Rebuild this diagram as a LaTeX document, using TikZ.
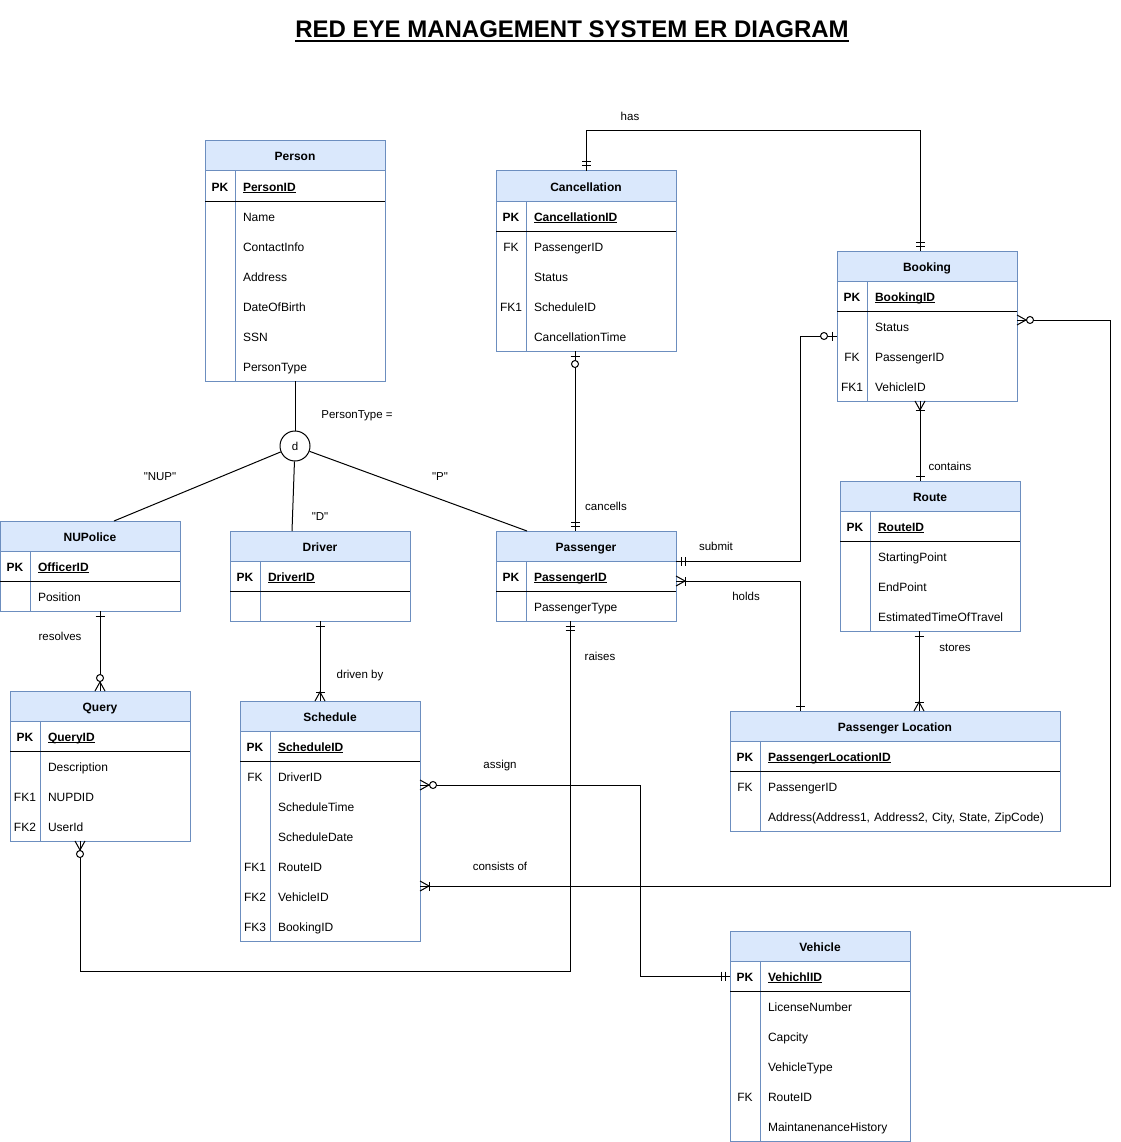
\documentclass[tikz,border=0pt]{standalone}
\usepackage{fontspec}
\setmainfont{Liberation Sans}[Ligatures=TeXOff]
\usepackage{xcolor}
\usepackage{tikz}
\usetikzlibrary{positioning, fit, decorations.markings}

\definecolor{erblue}{HTML}{6C8EBF}
\definecolor{erfill}{HTML}{DAE8FC}

\newcommand{\erfont}{\fontsize{12}{30}\selectfont}
\newcommand{\ercell}[1]{\rule[-10pt]{0pt}{30pt}#1}
% underline: #1 lower edge below baseline, #2 thickness, #3 text
\newcommand{\erul}[3]{\setbox0=\hbox{#3}\rlap{\rule[-#1]{\wd0}{#2}}\box0}
\newcommand{\pkname}[1]{\erul{2pt}{1pt}{#1}}
% crow's foot pieces (entity at origin, line comes from -x)
\newcommand{\erbar}[1]{\draw[ersym] (-#1,-4.5) -- (-#1,4.5);}
\newcommand{\ercrow}{\draw[ersym] (0,-5) -- (-9,0) -- (0,5);}
\newcommand{\erring}[1]{\draw[ersym, fill=white] (-#1,0) circle (3.5);}

\tikzset{
    entity/.style={
        rectangle,
        draw=erblue,
        fill=erfill,
        line width=1pt,
        inner sep=0pt,
        outer sep=0pt,
        font=\erfont\bfseries
    },
    keycell/.style={
        rectangle,
        draw=erblue,
        fill=white,
        line width=1pt,
        minimum width=30pt,
        inner sep=0pt,
        outer sep=0pt,
        align=center,
        font=\erfont
    },
    pkkey/.style={
        keycell,
        font=\erfont\bfseries
    },
    fieldcell/.style={
        rectangle,
        draw=erblue,
        fill=white,
        line width=1pt,
        inner xsep=8pt,
        inner ysep=0pt,
        outer sep=0pt,
        align=left,
        font=\erfont
    },
    pkfield/.style={
        fieldcell,
        font=\erfont\bfseries
    },
    pkline/.style={
        draw=black,
        line width=1pt
    },
    tblbox/.style={
        inner sep=0pt,
        outer sep=0pt
    },
    disjoint/.style={
        circle,
        draw=black,
        fill=white,
        line width=1pt,
        minimum size=30pt,
        inner sep=0pt,
        font=\fontsize{11.5}{13}\selectfont
    },
    wire/.style={
        draw=black,
        line width=1pt
    },
    ersym/.style={
        draw=black,
        line width=1pt
    },
    rel/.style={
        font=\fontsize{11.5}{13}\selectfont,
        inner sep=0pt
    },
    title/.style={
        font=\fontsize{24}{28}\selectfont\bfseries,
        anchor=base
    },
    er start/.style={
        postaction={decorate, decoration={markings,
            mark=at position 0 with {\begin{scope}[rotate=180]#1\end{scope}}}}
    },
    er end/.style={
        postaction={decorate, decoration={markings,
            mark=at position 1 with {#1}}}
    },
    one start/.style={er start={\erbar{5}}},
    one end/.style={er end={\erbar{5}}},
    mone start/.style={er start={\erbar{5}\erbar{9}}},
    mone end/.style={er end={\erbar{5}\erbar{9}}},
    zone start/.style={er start={\erbar{5}\erring{13}}},
    zone end/.style={er end={\erbar{5}\erring{13}}},
    omany start/.style={er start={\ercrow\erbar{9}}},
    omany end/.style={er end={\ercrow\erbar{9}}},
    zmany start/.style={er start={\ercrow\erring{13}}},
    zmany end/.style={er end={\ercrow\erring{13}}}
}

\begin{document}
\begin{tikzpicture}[x=1pt, y=-1pt]

\useasboundingbox (0,0) rectangle (1120,1142);

% Title
\node[title] (title) at (572,38) {\erul{4pt}{2pt}{RED EYE MANAGEMENT SYSTEM ER DIAGRAM}};

% Person
\node[entity, minimum width=180pt, anchor=north west] (person_h) at (205,141) {\ercell{Person}};
\node[pkkey, below right=0pt and 0pt of person_h.south west] (person_pk) {\ercell{PK}};
\node[pkfield, right=0pt of person_pk, text width=134pt] (person_id) {\ercell{\pkname{PersonID}}};
\node[keycell, below=0pt of person_pk] (person_kb) {\ercell{}\\\ercell{}\\\ercell{}\\\ercell{}\\\ercell{}\\\ercell{}};
\node[fieldcell, right=0pt of person_kb, text width=134pt] (person_fb) {\ercell{Name}\\\ercell{ContactInfo}\\\ercell{Address}\\\ercell{DateOfBirth}\\\ercell{SSN}\\\ercell{PersonType}};
\draw[pkline] (person_pk.south west) -- (person_id.south east);
\node[tblbox, fit=(person_h)(person_fb)] (person) {};

% Cancellation
\node[entity, minimum width=180pt, anchor=north west] (cancel_h) at (496,171) {\ercell{Cancellation}};
\node[pkkey, below right=0pt and 0pt of cancel_h.south west] (cancel_pk) {\ercell{PK}};
\node[pkfield, right=0pt of cancel_pk, text width=134pt] (cancel_id) {\ercell{\pkname{CancellationID}}};
\node[keycell, below=0pt of cancel_pk] (cancel_kb) {\ercell{FK}\\\ercell{}\\\ercell{FK1}\\\ercell{}};
\node[fieldcell, right=0pt of cancel_kb, text width=134pt] (cancel_fb) {\ercell{PassengerID}\\\ercell{Status}\\\ercell{ScheduleID}\\\ercell{CancellationTime}};
\draw[pkline] (cancel_pk.south west) -- (cancel_id.south east);
\node[tblbox, fit=(cancel_h)(cancel_fb)] (cancel) {};

% Booking
\node[entity, minimum width=180pt, anchor=north west] (booking_h) at (837,251) {\ercell{Booking}};
\node[pkkey, below right=0pt and 0pt of booking_h.south west] (booking_pk) {\ercell{PK}};
\node[pkfield, right=0pt of booking_pk, text width=134pt] (booking_id) {\ercell{\pkname{BookingID}}};
\node[keycell, below=0pt of booking_pk] (booking_kb) {\ercell{}\\\ercell{FK}\\\ercell{FK1}};
\node[fieldcell, right=0pt of booking_kb, text width=134pt] (booking_fb) {\ercell{Status}\\\ercell{PassengerID}\\\ercell{VehicleID}};
\draw[pkline] (booking_pk.south west) -- (booking_id.south east);
\node[tblbox, fit=(booking_h)(booking_fb)] (booking) {};

% Route
\node[entity, minimum width=180pt, anchor=north west] (route_h) at (840,481) {\ercell{Route}};
\node[pkkey, below right=0pt and 0pt of route_h.south west] (route_pk) {\ercell{PK}};
\node[pkfield, right=0pt of route_pk, text width=134pt] (route_id) {\ercell{\pkname{RouteID}}};
\node[keycell, below=0pt of route_pk] (route_kb) {\ercell{}\\\ercell{}\\\ercell{}};
\node[fieldcell, right=0pt of route_kb, text width=134pt] (route_fb) {\ercell{StartingPoint}\\\ercell{EndPoint}\\\ercell{EstimatedTimeOfTravel}};
\draw[pkline] (route_pk.south west) -- (route_id.south east);
\node[tblbox, fit=(route_h)(route_fb)] (route) {};

% NUPolice
\node[entity, minimum width=180pt, anchor=north west] (nupolice_h) at (0,521) {\ercell{NUPolice}};
\node[pkkey, below right=0pt and 0pt of nupolice_h.south west] (nupolice_pk) {\ercell{PK}};
\node[pkfield, right=0pt of nupolice_pk, text width=134pt] (nupolice_id) {\ercell{\pkname{OfficerID}}};
\node[keycell, below=0pt of nupolice_pk] (nupolice_kb) {\ercell{}};
\node[fieldcell, right=0pt of nupolice_kb, text width=134pt] (nupolice_fb) {\ercell{Position}};
\draw[pkline] (nupolice_pk.south west) -- (nupolice_id.south east);
\node[tblbox, fit=(nupolice_h)(nupolice_fb)] (nupolice) {};

% Driver
\node[entity, minimum width=180pt, anchor=north west] (driver_h) at (230,531) {\ercell{Driver}};
\node[pkkey, below right=0pt and 0pt of driver_h.south west] (driver_pk) {\ercell{PK}};
\node[pkfield, right=0pt of driver_pk, text width=134pt] (driver_id) {\ercell{\pkname{DriverID}}};
\node[keycell, below=0pt of driver_pk] (driver_kb) {\ercell{}};
\node[fieldcell, right=0pt of driver_kb, text width=134pt] (driver_fb) {\ercell{}};
\draw[pkline] (driver_pk.south west) -- (driver_id.south east);
\node[tblbox, fit=(driver_h)(driver_fb)] (driver) {};

% Passenger
\node[entity, minimum width=180pt, anchor=north west] (passenger_h) at (496,531) {\ercell{Passenger}};
\node[pkkey, below right=0pt and 0pt of passenger_h.south west] (passenger_pk) {\ercell{PK}};
\node[pkfield, right=0pt of passenger_pk, text width=134pt] (passenger_id) {\ercell{\pkname{PassengerID}}};
\node[keycell, below=0pt of passenger_pk] (passenger_kb) {\ercell{}};
\node[fieldcell, right=0pt of passenger_kb, text width=134pt] (passenger_fb) {\ercell{PassengerType}};
\draw[pkline] (passenger_pk.south west) -- (passenger_id.south east);
\node[tblbox, fit=(passenger_h)(passenger_fb)] (passenger) {};

% Query
\node[entity, minimum width=180pt, anchor=north west] (query_h) at (10,691) {\ercell{Query}};
\node[pkkey, below right=0pt and 0pt of query_h.south west] (query_pk) {\ercell{PK}};
\node[pkfield, right=0pt of query_pk, text width=134pt] (query_id) {\ercell{\pkname{QueryID}}};
\node[keycell, below=0pt of query_pk] (query_kb) {\ercell{}\\\ercell{FK1}\\\ercell{FK2}};
\node[fieldcell, right=0pt of query_kb, text width=134pt] (query_fb) {\ercell{Description}\\\ercell{NUPDID}\\\ercell{UserId}};
\draw[pkline] (query_pk.south west) -- (query_id.south east);
\node[tblbox, fit=(query_h)(query_fb)] (query) {};

% Schedule
\node[entity, minimum width=180pt, anchor=north west] (schedule_h) at (240,701) {\ercell{Schedule}};
\node[pkkey, below right=0pt and 0pt of schedule_h.south west] (schedule_pk) {\ercell{PK}};
\node[pkfield, right=0pt of schedule_pk, text width=134pt] (schedule_id) {\ercell{\pkname{ScheduleID}}};
\node[keycell, below=0pt of schedule_pk] (schedule_kb) {\ercell{FK}\\\ercell{}\\\ercell{}\\\ercell{FK1}\\\ercell{FK2}\\\ercell{FK3}};
\node[fieldcell, right=0pt of schedule_kb, text width=134pt] (schedule_fb) {\ercell{DriverID}\\\ercell{ScheduleTime}\\\ercell{ScheduleDate}\\\ercell{RouteID}\\\ercell{VehicleID}\\\ercell{BookingID}};
\draw[pkline] (schedule_pk.south west) -- (schedule_id.south east);
\node[tblbox, fit=(schedule_h)(schedule_fb)] (schedule) {};

% Passenger Location
\node[entity, minimum width=330pt, anchor=north west] (ploc_h) at (730,711) {\ercell{Passenger Location}};
\node[pkkey, below right=0pt and 0pt of ploc_h.south west] (ploc_pk) {\ercell{PK}};
\node[pkfield, right=0pt of ploc_pk, text width=284pt] (ploc_id) {\ercell{\pkname{PassengerLocationID}}};
\node[keycell, below=0pt of ploc_pk] (ploc_kb) {\ercell{FK}\\\ercell{}};
\node[fieldcell, right=0pt of ploc_kb, text width=284pt] (ploc_fb) {\ercell{PassengerID}\\\ercell{Address(Address1, Address2, City, State, ZipCode)}};
\draw[pkline] (ploc_pk.south west) -- (ploc_id.south east);
\node[tblbox, fit=(ploc_h)(ploc_fb)] (ploc) {};

% Vehicle
\node[entity, minimum width=180pt, anchor=north west] (vehicle_h) at (730,931) {\ercell{Vehicle}};
\node[pkkey, below right=0pt and 0pt of vehicle_h.south west] (vehicle_pk) {\ercell{PK}};
\node[pkfield, right=0pt of vehicle_pk, text width=134pt] (vehicle_id) {\ercell{\pkname{VehichlID}}};
\node[keycell, below=0pt of vehicle_pk] (vehicle_kb) {\ercell{}\\\ercell{}\\\ercell{}\\\ercell{FK}\\\ercell{}};
\node[fieldcell, right=0pt of vehicle_kb, text width=134pt] (vehicle_fb) {\ercell{LicenseNumber}\\\ercell{Capcity}\\\ercell{VehicleType}\\\ercell{RouteID}\\\ercell{MaintanenanceHistory}};
\draw[pkline] (vehicle_pk.south west) -- (vehicle_id.south east);
\node[tblbox, fit=(vehicle_h)(vehicle_fb)] (vehicle) {};

% Disjoint specialisation of Person
\node[disjoint] (disj) at (295,446) {d};
\node[rel] at (357,416) {PersonType =};
\draw[wire] (person.south) -- (disj);
\draw[wire] (disj) -- ([xshift=24pt]nupolice.north);
\draw[wire] (disj) -- ([xshift=-28pt]driver.north);
\draw[wire] (disj) -- ([xshift=-59pt]passenger.north);
\node[rel] at (160,477) {"NUP"};
\node[rel] at (320,517) {"D"};
\node[rel] at (440,477) {"P"};

% Relationships
\draw[wire, mone start, mone end] (cancel.north) -- ++(0,-40) -| ([xshift=-7pt]booking.north);
\node[rel] at (630,116) {has};

\draw[wire, zone start, mone end] ([xshift=-11pt]cancel.south) -- ([xshift=-11pt]passenger.north);
\node[rel] at (606,506) {cancells};

\draw[wire, mone start, zone end] ([yshift=-30pt]passenger.north east) -- ++(124,0) |- ([yshift=-85pt]booking.north west);
\node[rel] at (716,546) {submit};

\draw[wire, omany start, one end] ([yshift=-50pt]passenger.north east) -| ([xshift=-95pt]ploc.north);
\node[rel] at (746,596) {holds};

\draw[wire, omany start, one end] ([xshift=-7pt]booking.south) -- ([xshift=-10pt]route.north);
\node[rel] at (950,466) {contains};

\draw[wire, one start, omany end] ([xshift=-11pt]route.south) -- ([xshift=24pt]ploc.north);
\node[rel] at (955,648) {stores};

\draw[wire, one start, zmany end] ([xshift=10pt]nupolice.south) -- (query.north);
\node[rel] at (60,636) {resolves};

\draw[wire, one start, omany end] (driver.south) -- ([xshift=-10pt]schedule.north);
\node[rel] at (360,676) {driven by};

\draw[wire, mone start, zmany end] ([xshift=-16pt]passenger.south) -- ++(0,350) -| ([xshift=-20pt]query.south);
\node[rel] at (600,656) {raises};

\draw[wire, zmany start, mone end] ([yshift=-84pt]schedule.north east) -- ++(220,0) |- (vehicle_pk.west);
\node[rel] at (500,766) {assign};

\draw[wire, zmany start, omany end] ([yshift=-69pt]booking.north east) -- ++(93,0) |- ([yshift=-185pt]schedule.north east);
\node[rel] at (500,866) {consists of};

\end{tikzpicture}
\end{document}
